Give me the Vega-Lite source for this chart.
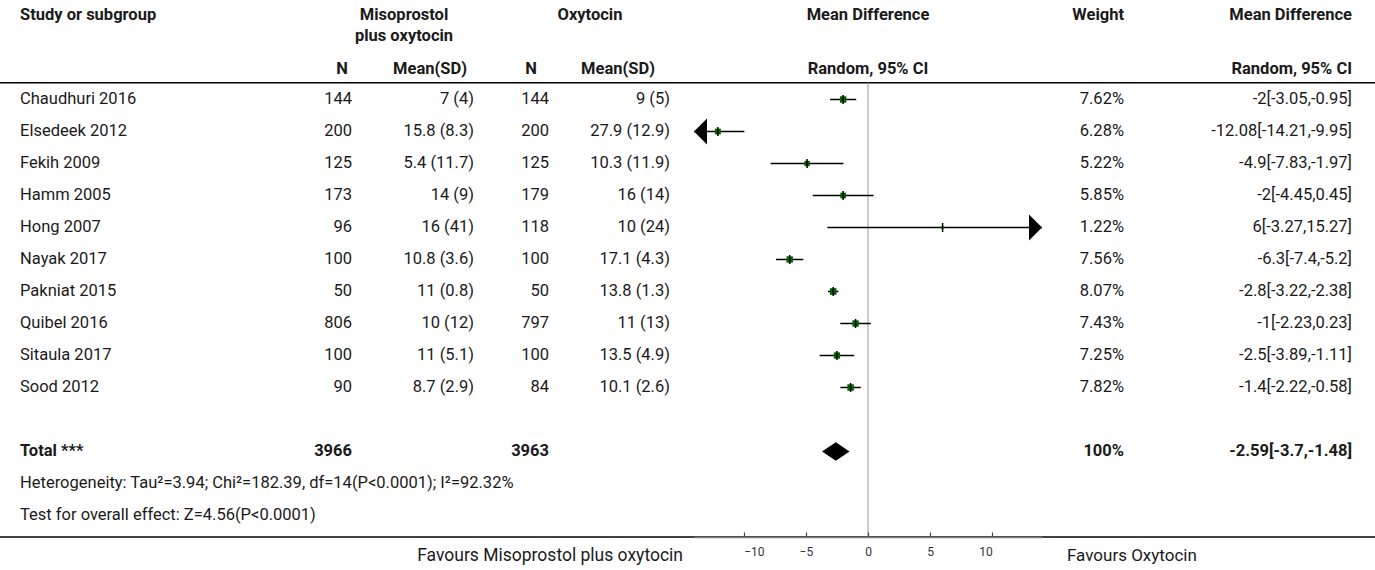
{
  "$schema": "https://vega.github.io/schema/vega-lite/v6.json",
  "width": 1375,
  "height": 537,
  "autosize": {"type": "none"},
  "padding": {"left": 0, "top": 0, "right": 0, "bottom": 33},
  "background": "white",
  "config": {
    "view": {"stroke": null},
    "text": {"font": "Roboto", "fontSize": 16.5, "color": "#1a1a1a"}
  },
  "datasets": {
    "studies": [
      {"row": 0, "study": "Chaudhuri 2016", "n1": "144", "ms1": "7 (4)", "n2": "144", "ms2": "9 (5)", "md": -2, "lo": -3.05, "hi": -0.95, "w": 7.62, "wt": "7.62%", "ci": "-2[-3.05,-0.95]"},
      {"row": 1, "study": "Elsedeek 2012", "n1": "200", "ms1": "15.8 (8.3)", "n2": "200", "ms2": "27.9 (12.9)", "md": -12.08, "lo": -14.21, "hi": -9.95, "w": 6.28, "wt": "6.28%", "ci": "-12.08[-14.21,-9.95]"},
      {"row": 2, "study": "Fekih 2009", "n1": "125", "ms1": "5.4 (11.7)", "n2": "125", "ms2": "10.3 (11.9)", "md": -4.9, "lo": -7.83, "hi": -1.97, "w": 5.22, "wt": "5.22%", "ci": "-4.9[-7.83,-1.97]"},
      {"row": 3, "study": "Hamm 2005", "n1": "173", "ms1": "14 (9)", "n2": "179", "ms2": "16 (14)", "md": -2, "lo": -4.45, "hi": 0.45, "w": 5.85, "wt": "5.85%", "ci": "-2[-4.45,0.45]"},
      {"row": 4, "study": "Hong 2007", "n1": "96", "ms1": "16 (41)", "n2": "118", "ms2": "10 (24)", "md": 6, "lo": -3.27, "hi": 15.27, "w": 1.22, "wt": "1.22%", "ci": "6[-3.27,15.27]"},
      {"row": 5, "study": "Nayak 2017", "n1": "100", "ms1": "10.8 (3.6)", "n2": "100", "ms2": "17.1 (4.3)", "md": -6.3, "lo": -7.4, "hi": -5.2, "w": 7.56, "wt": "7.56%", "ci": "-6.3[-7.4,-5.2]"},
      {"row": 6, "study": "Pakniat 2015", "n1": "50", "ms1": "11 (0.8)", "n2": "50", "ms2": "13.8 (1.3)", "md": -2.8, "lo": -3.22, "hi": -2.38, "w": 8.07, "wt": "8.07%", "ci": "-2.8[-3.22,-2.38]"},
      {"row": 7, "study": "Quibel 2016", "n1": "806", "ms1": "10 (12)", "n2": "797", "ms2": "11 (13)", "md": -1, "lo": -2.23, "hi": 0.23, "w": 7.43, "wt": "7.43%", "ci": "-1[-2.23,0.23]"},
      {"row": 8, "study": "Sitaula 2017", "n1": "100", "ms1": "11 (5.1)", "n2": "100", "ms2": "13.5 (4.9)", "md": -2.5, "lo": -3.89, "hi": -1.11, "w": 7.25, "wt": "7.25%", "ci": "-2.5[-3.89,-1.11]"},
      {"row": 9, "study": "Sood 2012", "n1": "90", "ms1": "8.7 (2.9)", "n2": "84", "ms2": "10.1 (2.6)", "md": -1.4, "lo": -2.22, "hi": -0.58, "w": 7.82, "wt": "7.82%", "ci": "-1.4[-2.22,-0.58]"}
    ],
    "total": [
      {"row": 11, "label": "Total ***", "n1": "3966", "n2": "3963", "md": -2.59, "lo": -3.7, "hi": -1.48, "wt": "100%", "ci": "-2.59[-3.7,-1.48]"}
    ],
    "notes": [
      {"row": 12, "text": "Heterogeneity: Tau²=3.94; Chi²=182.39, df=14(P<0.0001); I²=92.32%"},
      {"row": 13, "text": "Test for overall effect: Z=4.56(P<0.0001)"}
    ],
    "header": [
      {"row": -2.64, "col": 0, "text": "Study or subgroup"},
      {"row": -2.64, "col": 7, "text": "Misoprostol"},
      {"row": -1.98, "col": 7, "text": "plus oxytocin"},
      {"row": -2.64, "col": 8, "text": "Oxytocin"},
      {"row": -2.64, "col": 13, "text": "Mean Difference"},
      {"row": -2.64, "col": 5, "text": "Weight"},
      {"row": -2.64, "col": 6, "text": "Mean Difference"},
      {"row": -0.95, "col": 9, "text": "N"},
      {"row": -0.95, "col": 10, "text": "Mean(SD)"},
      {"row": -0.95, "col": 11, "text": "N"},
      {"row": -0.95, "col": 12, "text": "Mean(SD)"},
      {"row": -0.95, "col": 13, "text": "Random, 95% CI"},
      {"row": -0.95, "col": 6, "text": "Random, 95% CI"}
    ],
    "footer": [
      {"row": 14.27, "col": 15, "text": "Favours Misoprostol plus oxytocin"},
      {"row": 14.27, "col": 16, "text": "Favours Oxytocin"}
    ],
    "refline": [{"md": 0, "row": -0.525, "row2": 13.672}],
    "hlines": [{"row": -0.525}, {"row": 13.672}]
  },
  "encoding": {
    "y": {"field": "row", "type": "quantitative", "scale": {"domain": [-3.109, 13.672], "range": [0, 537], "nice": false, "zero": false}, "axis": null}
  },
  "resolve": {"scale": {"x": "independent"}, "axis": {"x": "independent"}},
  "layer": [
    {"data": {"name": "hlines"}, "mark": {"type": "rule", "color": "#000000", "strokeWidth": 1.5},
     "encoding": {}},
    {
      "layer": [
        {"data": {"name": "studies"}, "mark": {"type": "text", "align": "left"},
         "encoding": {"x": {"datum": 0, "type": "quantitative", "scale": {"domain": [0,1,2,3,4,5,6,7,8,9,10,11,12,13,14,15,16], "range": [20,352,474,549,670,1124,1352,404,590,342,430,531,618,868,1352,683,1067], "nice": false, "zero": false}, "axis": null}, "text": {"field": "study"}}},
        {"data": {"name": "studies"}, "mark": {"type": "text", "align": "right"},
         "encoding": {"x": {"datum": 1, "type": "quantitative"}, "text": {"field": "n1"}}},
        {"data": {"name": "studies"}, "mark": {"type": "text", "align": "right"},
         "encoding": {"x": {"datum": 2, "type": "quantitative"}, "text": {"field": "ms1"}}},
        {"data": {"name": "studies"}, "mark": {"type": "text", "align": "right"},
         "encoding": {"x": {"datum": 3, "type": "quantitative"}, "text": {"field": "n2"}}},
        {"data": {"name": "studies"}, "mark": {"type": "text", "align": "right"},
         "encoding": {"x": {"datum": 4, "type": "quantitative"}, "text": {"field": "ms2"}}},
        {"data": {"name": "studies"}, "mark": {"type": "text", "align": "right"},
         "encoding": {"x": {"datum": 5, "type": "quantitative"}, "text": {"field": "wt"}}},
        {"data": {"name": "studies"}, "mark": {"type": "text", "align": "right"},
         "encoding": {"x": {"datum": 6, "type": "quantitative"}, "text": {"field": "ci"}}},
        {"data": {"name": "total"}, "mark": {"type": "text", "align": "left", "fontWeight": "bold"},
         "encoding": {"x": {"datum": 0, "type": "quantitative"}, "text": {"field": "label"}}},
        {"data": {"name": "total"}, "mark": {"type": "text", "align": "right", "fontWeight": "bold"},
         "encoding": {"x": {"datum": 1, "type": "quantitative"}, "text": {"field": "n1"}}},
        {"data": {"name": "total"}, "mark": {"type": "text", "align": "right", "fontWeight": "bold"},
         "encoding": {"x": {"datum": 3, "type": "quantitative"}, "text": {"field": "n2"}}},
        {"data": {"name": "total"}, "mark": {"type": "text", "align": "right", "fontWeight": "bold"},
         "encoding": {"x": {"datum": 5, "type": "quantitative"}, "text": {"field": "wt"}}},
        {"data": {"name": "total"}, "mark": {"type": "text", "align": "right", "fontWeight": "bold"},
         "encoding": {"x": {"datum": 6, "type": "quantitative"}, "text": {"field": "ci"}}},
        {"data": {"name": "notes"}, "mark": {"type": "text", "align": "left"},
         "encoding": {"x": {"datum": 0, "type": "quantitative"}, "text": {"field": "text"}}},
        {"data": {"name": "header"}, "transform": [{"filter": "datum.col == 0"}], "mark": {"type": "text", "align": "left", "fontWeight": "bold"},
         "encoding": {"x": {"field": "col", "type": "quantitative"}, "text": {"field": "text"}}},
        {"data": {"name": "header"}, "transform": [{"filter": "datum.col >= 7 && datum.col <= 13"}], "mark": {"type": "text", "align": "center", "fontWeight": "bold"},
         "encoding": {"x": {"field": "col", "type": "quantitative"}, "text": {"field": "text"}}},
        {"data": {"name": "header"}, "transform": [{"filter": "datum.col == 5 || datum.col == 6"}], "mark": {"type": "text", "align": "right", "fontWeight": "bold"},
         "encoding": {"x": {"field": "col", "type": "quantitative"}, "text": {"field": "text"}}},
        {"data": {"name": "footer"}, "transform": [{"filter": "datum.col == 15"}], "mark": {"type": "text", "align": "right", "fontSize": 17.5},
         "encoding": {"x": {"field": "col", "type": "quantitative"}, "text": {"field": "text"}}},
        {"data": {"name": "footer"}, "transform": [{"filter": "datum.col == 16"}], "mark": {"type": "text", "align": "left", "fontSize": 17},
         "encoding": {"x": {"field": "col", "type": "quantitative"}, "text": {"field": "text"}}}
      ]
    },
    {
      "layer": [
        {"data": {"name": "refline"}, "mark": {"type": "rule", "color": "#999999", "strokeWidth": 1},
         "encoding": {
           "x": {"field": "md", "type": "quantitative",
                 "scale": {"domain": [-14, 14], "range": [694, 1042], "clamp": true, "nice": false, "zero": false},
                 "axis": {"orient": "bottom", "values": [-10, -5, 0, 5, 10], "title": null, "grid": false, "zindex": 1,
                          "domainColor": "#808080", "domainWidth": 1.5, "tickColor": "#444444", "tickSize": -5, "tickWidth": 1.2,
                          "labelPadding": 14, "labelFlush": 55, "labelFont": "Roboto", "labelFontSize": 12, "labelColor": "#333333"}},
           "y2": {"field": "row2"}}},
        {"data": {"name": "studies"}, "mark": {"type": "rule", "color": "#000000", "strokeWidth": 1.5},
         "encoding": {"x": {"field": "lo", "type": "quantitative"}, "x2": {"field": "hi"}}},
        {"data": {"name": "studies"}, "mark": {"type": "point", "shape": "square", "filled": true, "color": "#006400", "opacity": 1},
         "encoding": {"x": {"field": "md", "type": "quantitative"},
                      "size": {"field": "w", "type": "quantitative", "scale": {"domain": [0, 8.07], "range": [0, 44]}, "legend": null}}},
        {"data": {"name": "studies"}, "mark": {"type": "tick", "orient": "vertical", "size": 9, "thickness": 1.5, "color": "#000000", "opacity": 1},
         "encoding": {"x": {"field": "md", "type": "quantitative"}}},
        {"data": {"name": "studies"}, "transform": [{"filter": "datum.lo < -14"}],
         "mark": {"type": "point", "shape": "M0,0L1,-1L1,1Z", "size": 676, "filled": true, "color": "#000000", "opacity": 1},
         "encoding": {"x": {"field": "lo", "type": "quantitative"}}},
        {"data": {"name": "studies"}, "transform": [{"filter": "datum.hi > 14"}],
         "mark": {"type": "point", "shape": "M0,0L-1,-1L-1,1Z", "size": 676, "filled": true, "color": "#000000", "opacity": 1},
         "encoding": {"x": {"field": "hi", "type": "quantitative"}}},
        {"data": {"name": "total"}, "mark": {"type": "point", "shape": "M-1,0L0,-0.67L1,0L0,0.67Z", "size": 756, "filled": true, "color": "#000000", "opacity": 1},
         "encoding": {"x": {"field": "md", "type": "quantitative"}}}
      ]
    }
  ]
}
